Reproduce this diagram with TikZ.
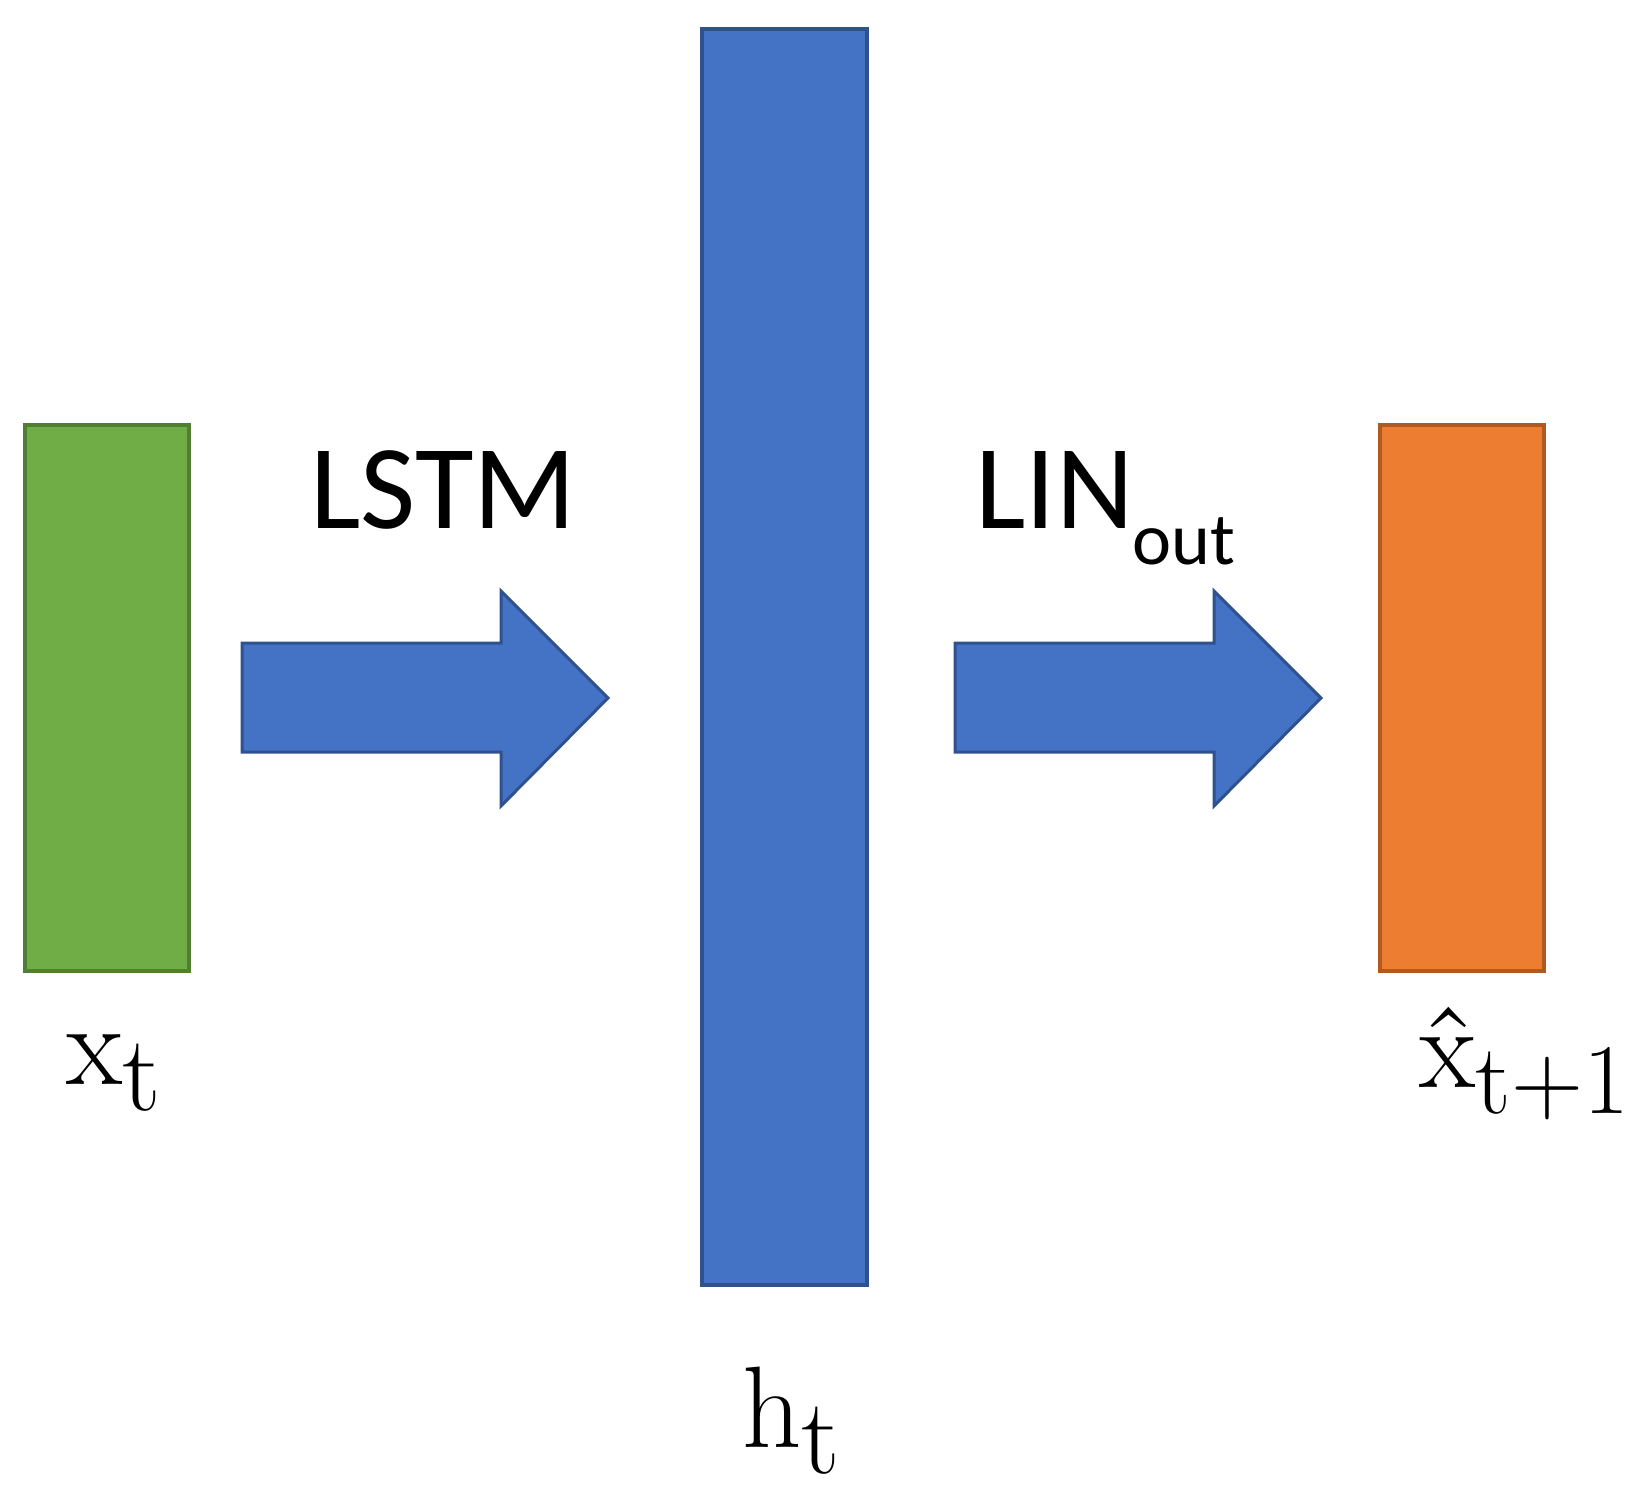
\documentclass[tikz,border=0pt]{standalone}
\usepackage{fontspec}
\setmainfont{Latin Modern Roman}
\newfontfamily\carl{Carlito}
\definecolor{gfill}{HTML}{70AD47}
\definecolor{gline}{HTML}{507E32}
\definecolor{bfill}{HTML}{4472C4}
\definecolor{bline}{HTML}{2F528F}
\definecolor{ofill}{HTML}{ED7D31}
\definecolor{oline}{HTML}{AE5A21}
\begin{document}
\begin{tikzpicture}[x=0.5pt,y=-0.5pt,
  layer/.style={rectangle,inner sep=0pt,outer sep=0pt,line width=2pt,anchor=north west},
  blockarrow/.style={fill=bfill,draw=bline,line width=1.5pt,line join=miter},
  lbl/.style={inner sep=0pt,anchor=base west},
  sanslbl/.style={lbl,font=\carl\fontsize{60}{62}\selectfont},
  subs/.style={lbl,font=\carl\fontsize{37}{39}\selectfont},
  mathlbl/.style={lbl,font=\fontsize{58}{60}\selectfont}]
\useasboundingbox (0,0) rectangle (1645,1505);
% layers
\node[layer,fill=gfill,draw=gline,minimum width=82pt,minimum height=273pt] (xin) at (25,425) {};
\node[layer,fill=bfill,draw=bline,minimum width=82.5pt,minimum height=628pt] (h) at (702,29) {};
\node[layer,fill=ofill,draw=oline,minimum width=82pt,minimum height=273pt] (xout) at (1380,425) {};
% block arrows
\coordinate (a1) at (242,698);
\coordinate (a2) at (955,698);
\draw[blockarrow] (a1) ++(0,-55) -- ++(259,0) -- ++(0,-52) -- (608,698) -- (501,806) -- ++(0,-54) -- ++(-259,0) -- cycle;
\draw[blockarrow] (a2) ++(0,-55) -- ++(259,0) -- ++(0,-52) -- (1321,698) -- (1214,806) -- ++(0,-54) -- ++(-259,0) -- cycle;
% labels
\node[sanslbl] (lstm) at (310,528) {LSTM};
\node[sanslbl] (lin) at (975,528) {LIN};
\node[subs] (out) at (1132,564) {out};
\node[mathlbl] (xt) at (66,1084) {x\raisebox{-13pt}{\fontsize{54}{56}\selectfont t}};
\node[mathlbl] (ht) at (742,1447) {h\raisebox{-13pt}{\fontsize{54}{56}\selectfont t}};
\node[mathlbl] (xh) at (1419,1087) {\^{x}\raisebox{-13pt}{\fontsize{50}{52}\selectfont t+1}};
\end{tikzpicture}
\end{document}
